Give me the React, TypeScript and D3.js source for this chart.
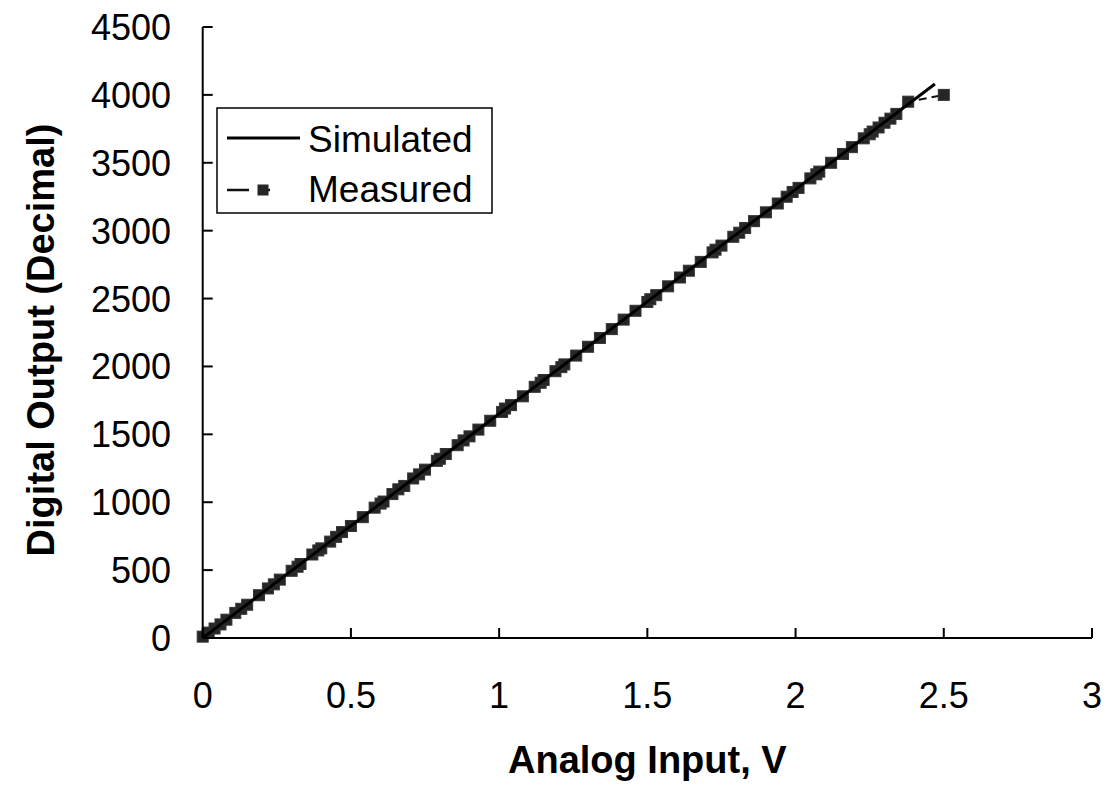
import React from "react";
import * as d3 from "d3";

const simulatedX = [0, 2.47];
const simulatedY = [0, 4080];

const measuredX = [0, 0.02, 0.04, 0.06, 0.08, 0.11, 0.13, 0.15, 0.19, 0.22, 0.24, 0.26, 0.3, 0.32, 0.33, 0.37, 0.39, 0.4, 0.43, 0.45, 0.47, 0.5, 0.54, 0.58, 0.6, 0.61, 0.64, 0.66, 0.68, 0.71, 0.73, 0.75, 0.79, 0.8, 0.82, 0.86, 0.88, 0.9, 0.93, 0.97, 1.01, 1.02, 1.04, 1.08, 1.12, 1.14, 1.15, 1.19, 1.21, 1.22, 1.26, 1.3, 1.34, 1.38, 1.42, 1.46, 1.5, 1.51, 1.53, 1.57, 1.61, 1.64, 1.68, 1.72, 1.73, 1.75, 1.79, 1.81, 1.83, 1.86, 1.9, 1.94, 1.97, 1.99, 2.01, 2.05, 2.07, 2.08, 2.12, 2.16, 2.19, 2.23, 2.25, 2.26, 2.28, 2.3, 2.32, 2.34, 2.38, 2.5];
const measuredY = [10, 40, 70, 100, 135, 185, 215, 245, 315, 365, 395, 430, 495, 525, 545, 615, 645, 660, 710, 745, 780, 825, 890, 960, 990, 1005, 1060, 1095, 1120, 1175, 1205, 1240, 1305, 1320, 1355, 1420, 1455, 1485, 1535, 1600, 1665, 1690, 1715, 1780, 1850, 1880, 1900, 1965, 1995, 2015, 2080, 2145, 2210, 2275, 2345, 2410, 2475, 2495, 2525, 2590, 2655, 2705, 2770, 2840, 2860, 2890, 2955, 2985, 3020, 3070, 3135, 3200, 3250, 3285, 3315, 3385, 3415, 3435, 3500, 3565, 3615, 3680, 3710, 3730, 3760, 3795, 3825, 3860, 3950, 4000];

const xTicks = [0, 0.5, 1, 1.5, 2, 2.5, 3];
const yTicks = [0, 500, 1000, 1500, 2000, 2500, 3000, 3500, 4000, 4500];
const legendLabels = ["Simulated", "Measured"];

const W = 1110;
const H = 785;
const M = { left: 202.7, right: 18, top: 27, bottom: 147 };
const FONT = "Liberation Sans, Arial, sans-serif";

export default function App() {
  const x = d3.scaleLinear().domain([0, 3]).range([M.left, W - M.right]);
  const y = d3.scaleLinear().domain([0, 4500]).range([H - M.bottom, M.top]);
  const line = d3
    .line<[number, number]>()
    .x((d) => x(d[0]))
    .y((d) => y(d[1]));
  const simPts: [number, number][] = simulatedX.map((v, i) => [v, simulatedY[i]]);
  const measPts: [number, number][] = measuredX.map((v, i) => [v, measuredY[i]]);
  const ms = 11;
  const y0 = y(0);
  const x0 = x(0);

  return (
    <svg
      width={W}
      height={H}
      style={{ position: "absolute", left: 0, top: 0, background: "#fff" }}
      fontFamily={FONT}
    >
      <rect x={0} y={0} width={W} height={H} fill="#fff" />
      {/* measured */}
      <path d={line(measPts) || ""} fill="none" stroke="#111" strokeWidth={2} strokeDasharray="8,5" />
      {measPts.map((d, i) => (
        <rect
          key={i}
          x={x(d[0]) - ms / 2}
          y={y(d[1]) - ms / 2}
          width={ms}
          height={ms}
          fill="#262626"
          stroke="#333"
          strokeWidth={1}
        />
      ))}
      {/* simulated */}
      <path d={line(simPts) || ""} fill="none" stroke="#000" strokeWidth={3} />

      {/* axes */}
      <line x1={x0} x2={x0} y1={y(4500)} y2={y0} stroke="#000" strokeWidth={2} />
      <line x1={x0} x2={x(3)} y1={y0} y2={y0} stroke="#000" strokeWidth={2} />
      {yTicks.map((t) => (
        <g key={"y" + t}>
          <line x1={x0} x2={x0 + 10} y1={y(t)} y2={y(t)} stroke="#000" strokeWidth={2} />
          <text x={171} y={y(t)} dy="0.36em" textAnchor="end" fontSize={36} fill="#000">
            {t}
          </text>
        </g>
      ))}
      {xTicks.map((t) => (
        <g key={"x" + t}>
          <line x1={x(t)} x2={x(t)} y1={y0} y2={y0 - 10} stroke="#000" strokeWidth={2} />
          <text x={x(t)} y={708} textAnchor="middle" fontSize={36} fill="#000">
            {t}
          </text>
        </g>
      ))}
      <text x={(x(0) + x(3)) / 2} y={773} textAnchor="middle" fontSize={38} fontWeight="bold">
        Analog Input, V
      </text>
      <text
        transform={`translate(54,340) rotate(-90)`}
        textAnchor="middle"
        fontSize={38}
        fontWeight="bold"
      >
        Digital Output (Decimal)
      </text>

      {/* legend */}
      <rect x={217} y={108} width={275} height={105} fill="#fff" stroke="#000" strokeWidth={1.5} />
      <line x1={227} x2={300} y1={138} y2={138} stroke="#000" strokeWidth={3} />
      <text x={308} y={152} fontSize={37}>
        {legendLabels[0]}
      </text>
      <line x1={227} x2={300} y1={190} y2={190} stroke="#111" strokeWidth={2.5} strokeDasharray="22,11,10,30" />
      <rect x={263 - ms / 2} y={190 - ms / 2} width={ms} height={ms} fill="#262626" />
      <text x={308} y={202} fontSize={37}>
        {legendLabels[1]}
      </text>
    </svg>
  );
}
